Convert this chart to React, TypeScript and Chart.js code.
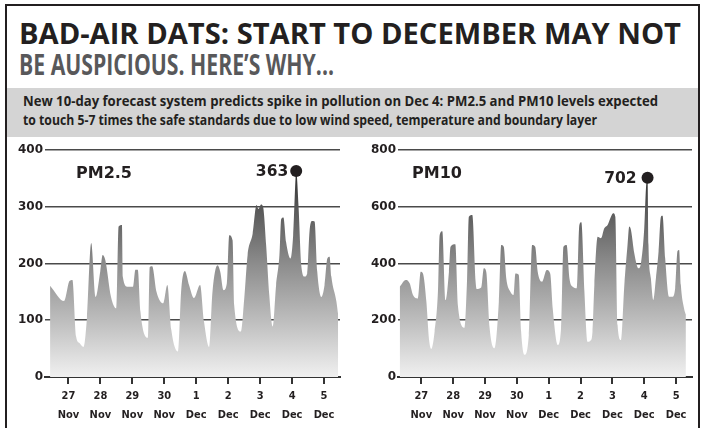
import React, { useEffect, useLayoutEffect, useRef } from 'react';
import { Chart, registerables } from 'chart.js';

Chart.register(...registerables);

// ---------- data ----------
const DAY_LABELS = ['27', '28', '29', '30', '1', '2', '3', '4', '5'];
const MONTH_LABELS = ['Nov', 'Nov', 'Nov', 'Nov', 'Dec', 'Dec', 'Dec', 'Dec', 'Dec'];
// hour of each tick, counted from 27 Nov 00:00 (ticks sit at midday)
const TICK_HOURS = [12, 36, 60, 84, 108, 132, 156, 180, 204];

const PM25_Y_TICKS = [0, 100, 200, 300, 400];
const PM10_Y_TICKS = [0, 200, 400, 600, 800];

// hours since 27 Nov 00:00
const PM25_HOURS = [
  -1.8, 8.8, 12.8, 15.0, 17.8, 20.3, 23.3, 25.9, 29.1, 32.4, 35.9, 37.7, 39.7, 44.0, 48.0,
  49.7, 52.2, 52.8, 56.5, 60.6, 62.3, 64.1, 66.1, 71.6, 73.1, 74.9, 78.2, 83.2, 86.3, 89.3,
  94.3, 96.8, 99.5, 102.6, 106.3, 110.9, 113.9, 117.7, 120.2, 124.0, 126.0, 128.5, 131.0,
  132.8, 135.3, 136.5, 141.6, 144.1, 146.6, 150.4, 153.3, 154.8, 156.7, 158.2, 160.5, 162.9,
  165.5, 168.0, 170.5, 171.8, 173.5, 175.5, 178.8, 180.8, 182.6, 183.1, 184.8, 186.9, 189.4,
  191.4, 193.1, 194.9, 196.9, 198.9, 202.0, 204.4, 206.5, 208.2, 209.5, 213.3, 214.6,
];
const PM25_VALUES = [
  161, 134, 169, 171, 71, 60, 53, 104, 236, 141, 186, 215, 206, 141, 121,
  265, 268, 177, 159, 159, 189, 189, 115, 69, 194, 195, 150, 130, 162, 83,
  45, 156, 187, 162, 139, 162, 97, 53, 150, 197, 186, 153, 165,
  250, 241, 127, 80, 139, 215, 253, 303, 296, 304, 300, 233, 144,
  89, 162, 215, 278, 281, 238, 209, 250, 350, 363, 303, 197, 177,
  183, 256, 275, 274, 186, 141, 162, 209, 212, 177, 133, 110,
];

const PM10_HOURS = [
  -4.3, 0.2, 3.2, 5.7, 9.4, 11.5, 13.2, 15.8, 17.7, 19.5, 22.0, 24.5, 25.8, 27.8, 30.3,
  32.8, 34.0, 37.6, 39.5, 44.6, 46.3, 47.8, 50.4, 52.9, 53.8, 57.1, 59.1, 60.9, 63.4, 67.1,
  70.4, 72.2, 74.1, 76.0, 79.0, 81.4, 82.9, 85.4, 87.2, 89.7, 93.0, 95.5, 97.8, 99.7, 103.0,
  106.5, 109.1, 111.0, 114.8, 117.3, 119.1, 121.5, 123.6, 126.1, 129.1, 131.1, 132.6, 134.9,
  137.3, 139.5, 141.0, 142.4, 144.9, 147.4, 149.9, 152.4, 154.9, 156.7, 158.2, 159.9, 162.5,
  165.0, 167.4, 168.7, 170.0, 172.5, 175.7, 177.5, 180.0, 181.3, 182.5, 183.2, 185.0, 186.8,
  188.8, 190.8, 192.6, 193.8, 195.8, 198.8, 201.3, 203.3, 205.1, 206.3, 207.6, 210.1, 211.4,
];
const PM10_VALUES = [
  318, 342, 330, 289, 277, 371, 365, 265, 136, 99, 160, 301, 500, 514, 271,
  371, 459, 468, 254, 174, 324, 565, 571, 336, 310, 315, 383, 371, 175, 101,
  265, 465, 459, 348, 301, 289, 365, 360, 160, 78, 148, 465, 459, 371, 336,
  377, 365, 242, 113, 172, 459, 465, 348, 318, 313, 536, 545, 301,
  124, 128, 160, 324, 494, 489, 524, 536, 565, 577, 565, 183, 130,
  324, 465, 530, 518, 436, 383, 401, 524, 665, 702, 465, 348, 271,
  348, 442, 565, 568, 418, 283, 283, 313, 444, 448, 324, 240, 220,
];

// ---------- styling ----------
const CHART_FONT = "'DejaVu Sans', Verdana, sans-serif";
const TICK_FONT = "'DejaVu Sans Condensed', 'DejaVu Sans', sans-serif";
const HEAD_FONT = "'Open Sans', 'Noto Sans', sans-serif";
const INK = '#231f20';
const X_MIN = -5.6;
const X_MAX = 216;

const annotatePlugin = {
  id: 'annotate',
  afterDatasetsDraw(chart: any) {
    const o = chart.options.plugins.annotate;
    if (!o) return;
    const { ctx, chartArea } = chart;
    ctx.save();
    ctx.fillStyle = INK;
    ctx.textBaseline = 'alphabetic';
    ctx.textAlign = 'left';
    ctx.font = `bold 16px ${CHART_FONT}`;
    ctx.fillText(o.title, chartArea.left + o.titleX, chartArea.top + 28);
    const pt = chart.getDatasetMeta(0).data[o.peakIdx];
    if (pt) {
      ctx.font = `bold 15.5px ${CHART_FONT}`;
      ctx.textAlign = 'right';
      ctx.fillText(String(o.peakValue), pt.x - o.peakGap, pt.y + 5.5);
    }
    ctx.restore();
  },
};

type PanelProps = {
  title: string;
  hours: number[];
  values: number[];
  yTicks: number[];
  left: number;
  width: number;
  axisWidth: number;
  padRight: number;
  titleX: number;
  peakGap: number;
};

function Panel(p: PanelProps) {
  const ref = useRef<HTMLCanvasElement>(null);
  useEffect(() => {
    const canvas = ref.current;
    if (!canvas) return;
    const maxVal = Math.max(...p.values);
    const peakIdx = p.values.indexOf(maxVal);
    const chart = new Chart(canvas, {
      type: 'line',
      data: {
        datasets: [
          {
            data: p.hours.map((h, i) => ({ x: h, y: p.values[i] })),
            fill: 'origin',
            borderWidth: 0,
            borderColor: 'rgba(0,0,0,0)',
            cubicInterpolationMode: 'monotone',
            backgroundColor: (c: any) => {
              const a = c.chart.chartArea;
              if (!a) return '#999';
              const g = c.chart.ctx.createLinearGradient(0, a.top, 0, a.bottom);
              g.addColorStop(0, '#1c1c1c');
              g.addColorStop(0.1, '#2e2e2e');
              g.addColorStop(0.26, '#585858');
              g.addColorStop(0.5, '#8c8c8c');
              g.addColorStop(0.75, '#bdbdbd');
              g.addColorStop(0.93, '#e2e2e2');
              g.addColorStop(1, '#f0f0f0');
              return g;
            },
            pointRadius: (c: any) => (c.dataIndex === peakIdx ? 6 : 0),
            pointHoverRadius: 0,
            pointBackgroundColor: INK,
            pointBorderWidth: 0,
          } as any,
        ],
      },
      options: {
        animation: false,
        responsive: false,
        devicePixelRatio: 1,
        events: [],
        layout: { padding: { top: 10, right: p.padRight, left: 0, bottom: 0 } },
        plugins: {
          legend: { display: false },
          tooltip: { enabled: false },
          annotate: { title: p.title, titleX: p.titleX, peakIdx, peakValue: maxVal, peakGap: p.peakGap },
        } as any,
        scales: {
          x: {
            type: 'linear',
            min: X_MIN,
            max: X_MAX,
            afterBuildTicks: (s: any) => {
              s.ticks = TICK_HOURS.map((v) => ({ value: v }));
            },
            afterFit: (s: any) => {
              s.height = 51;
            },
            ticks: {
              autoSkip: false,
              maxRotation: 0,
              minRotation: 0,
              padding: 2.5,
              color: INK,
              font: { family: TICK_FONT, size: 11, weight: 'bold', lineHeight: 1.75 },
              callback: (_v: any, i: number) => [DAY_LABELS[i], MONTH_LABELS[i]],
            },
            grid: { drawOnChartArea: false, drawTicks: true, tickLength: 7, color: '#333', lineWidth: 2 },
            border: { display: true, color: '#333', width: 2 },
          },
          y: {
            min: 0,
            max: p.yTicks[p.yTicks.length - 1],
            afterBuildTicks: (s: any) => {
              s.ticks = p.yTicks.map((v) => ({ value: v }));
            },
            afterFit: (s: any) => {
              s.width = p.axisWidth;
            },
            ticks: {
              padding: 2,
              color: INK,
              font: { family: CHART_FONT, size: 12, weight: 'bold' },
            },
            grid: { drawTicks: false, color: '#4a4a4a', lineWidth: 1.6 },
            border: { display: false },
          },
        } as any,
      },
      plugins: [annotatePlugin],
    });
    return () => chart.destroy();
  }, []);
  return (
    <canvas
      ref={ref}
      width={p.width}
      height={288}
      style={{ position: 'absolute', left: p.left, top: 140, width: p.width, height: 288 }}
    />
  );
}

function FitText(props: { text: string; left: number; top: number; width: number; size: number; color: string }) {
  const ref = useRef<HTMLSpanElement>(null);
  useLayoutEffect(() => {
    const el = ref.current;
    if (!el) return;
    el.style.transform = 'none';
    const w = el.getBoundingClientRect().width;
    if (w > 0) el.style.transform = `scaleX(${props.width / w})`;
  }, [props.text, props.width]);
  return (
    <span
      ref={ref}
      style={{
        position: 'absolute',
        left: props.left,
        top: props.top,
        fontFamily: HEAD_FONT,
        fontWeight: 700,
        fontSize: props.size,
        lineHeight: `${props.size}px`,
        whiteSpace: 'nowrap',
        transformOrigin: '0 0',
        color: props.color,
      }}
    >
      {props.text}
    </span>
  );
}

export default function App() {
  return (
    <div
      style={{
        position: 'absolute',
        left: 0,
        top: 0,
        width: 703,
        height: 428,
        overflow: 'hidden',
        background: '#fff',
      }}
    >
      <div
        style={{
          position: 'absolute',
          left: 5,
          top: 4,
          width: 695,
          height: 440,
          boxSizing: 'border-box',
          borderTop: `2.5px solid ${INK}`,
          borderLeft: `2px solid ${INK}`,
          borderRight: `2px solid ${INK}`,
        }}
      />
      <FitText text="BAD-AIR DATS: START TO DECEMBER MAY NOT" left={19} top={19} width={662} size={28.5} color={INK} />
      <FitText text="BE AUSPICIOUS. HERE’S WHY..." left={19} top={48.5} width={315} size={29} color="#58585a" />
      <div style={{ position: 'absolute', left: 7, top: 88, width: 691, height: 49, background: '#d4d4d4' }} />
      <FitText
        text="New 10-day forecast system predicts spike in pollution on Dec 4: PM2.5 and PM10 levels expected"
        left={23}
        top={94.3}
        width={635}
        size={14}
        color={INK}
      />
      <FitText
        text="to touch 5-7 times the safe standards due to low wind speed, temperature and boundary layer"
        left={23}
        top={112.6}
        width={574}
        size={14}
        color={INK}
      />
      <Panel
        title="PM2.5"
        hours={PM25_HOURS}
        values={PM25_VALUES}
        yTicks={PM25_Y_TICKS}
        left={0}
        width={350}
        axisWidth={45}
        padRight={10}
        titleX={31}
        peakGap={8}
      />
      <Panel
        title="PM10"
        hours={PM10_HOURS}
        values={PM10_VALUES}
        yTicks={PM10_Y_TICKS}
        left={350}
        width={353}
        axisWidth={48}
        padRight={11}
        titleX={14}
        peakGap={11}
      />
    </div>
  );
}
